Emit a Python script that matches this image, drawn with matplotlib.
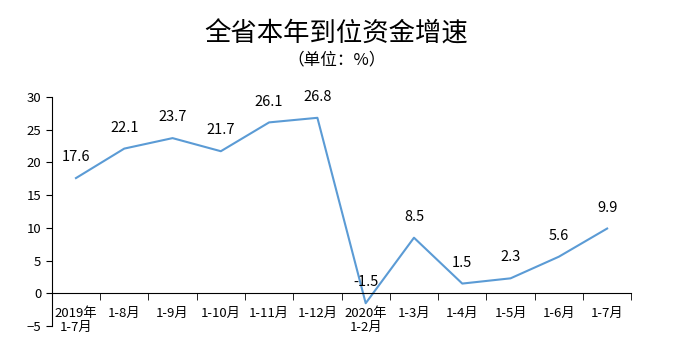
import numpy as np
import matplotlib.pyplot as plt

plt.rcParams['font.family'] = ['Noto Sans CJK SC', 'DejaVu Sans']

# Data
labels = ["2019年\n1-7月", "1-8月", "1-9月", "1-10月", "1-11月", "1-12月",
          "2020年\n1-2月", "1-3月", "1-4月", "1-5月", "1-6月", "1-7月"]
values = [17.6, 22.1, 23.7, 21.7, 26.1, 26.8, -1.5, 8.5, 1.5, 2.3, 5.6, 9.9]
yticks = [-5, 0, 5, 10, 15, 20, 25, 30]

fig = plt.figure(figsize=(6.73, 3.6), dpi=100)
ax = fig.add_axes([0.077, 0.094, 0.861, 0.637])

x = np.arange(len(values))
ax.plot(x, values, color='#5B9BD5', lw=1.5)

for xi, v in zip(x, values):
    ax.annotate(f"{v}", (xi, v), xytext=(0, 10), textcoords='offset points',
                ha='center', va='bottom', fontsize=10.5)

ax.set_xlim(-0.5, len(values) - 0.5)
ax.set_ylim(-5, 30)
ax.set_yticks(yticks)
ax.tick_params(axis='y', labelsize=9.5, length=4, direction='out')

# x axis on the zero line
ax.spines['bottom'].set_position(('data', 0))
ax.spines['top'].set_visible(False)
ax.spines['right'].set_visible(False)
ax.set_xticks(x)
ax.set_xticklabels(labels, fontsize=9.5, va='top', linespacing=1.1)
ax.set_xticks(np.arange(len(values) + 1) - 0.5, minor=True)
ax.tick_params(axis='x', which='major', length=0, pad=10)
ax.tick_params(axis='x', which='minor', length=5, direction='out')

fig.text(0.5, 0.905, "全省本年到位资金增速", ha='center', va='center', fontsize=19)
fig.text(0.5, 0.833, "（单位：%）", ha='center', va='center', fontsize=12)

fig.savefig("out.png", dpi=100)
